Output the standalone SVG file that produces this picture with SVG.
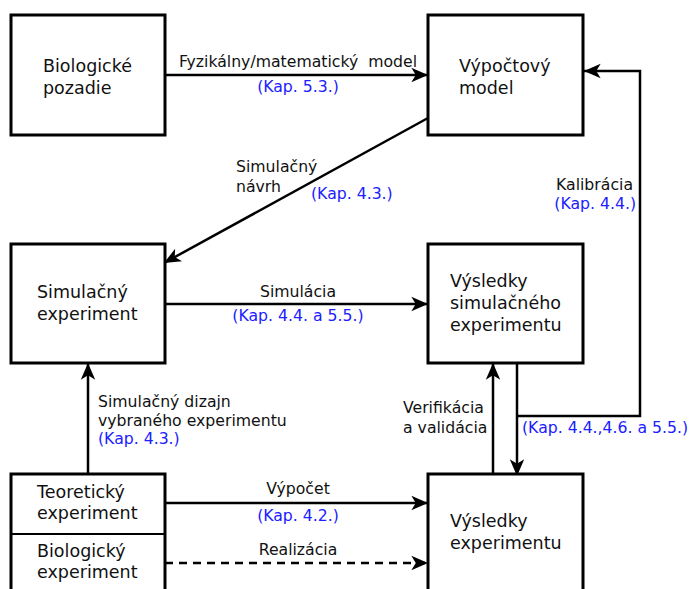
<svg xmlns="http://www.w3.org/2000/svg" width="690" height="589" viewBox="0 0 690 589">
<defs>
<style>
.box{fill:#fff;stroke:#000;stroke-width:3}
.t{font-family:"DejaVu Sans",sans-serif;font-size:17.5px;fill:#111}
.e{font-family:"DejaVu Sans",sans-serif;font-size:15.7px;fill:#111}
.b{font-family:"DejaVu Sans",sans-serif;font-size:15.7px;fill:#2020ff}
.c{fill:none;stroke:#000;stroke-width:2.5}
.d{stroke-dasharray:8,6}
</style>
<marker id="ah" markerUnits="userSpaceOnUse" markerWidth="20" markerHeight="20" viewBox="-16 -8 18 16" refX="0" refY="0" orient="auto">
<path d="M0,0 L-15,-6.5 L-11,0 L-15,6.5 Z" fill="#000"/>
</marker>
</defs>
<rect width="690" height="589" fill="#fff"/>
<g id="connectors">
<path class="c" d="M165,75 L428,75" marker-end="url(#ah)"/>
<path class="c" d="M428,118 L164,263" marker-end="url(#ah)"/>
<path class="c" d="M165,304 L428,304" marker-end="url(#ah)"/>
<path class="c" d="M517,416 L640,416 L640,71 L584,71" marker-end="url(#ah)"/>
<path class="c" d="M517,363 L517,476" marker-end="url(#ah)"/>
<path class="c" d="M493,474 L493,363" marker-end="url(#ah)"/>
<path class="c" d="M88,474 L88,363" marker-end="url(#ah)"/>
<path class="c" d="M165,503 L428,503" marker-end="url(#ah)"/>
<path class="c d" d="M165,563 L428,563" marker-end="url(#ah)"/>
<text class="e" x="298" y="67" text-anchor="middle" xml:space="preserve">Fyzikálny/matematický  model</text>
<text class="b" x="298" y="92" text-anchor="middle">(Kap. 5.3.)</text>
<text class="e" x="236" y="172">Simulačný</text>
<text class="e" x="236" y="192">návrh</text>
<text class="b" x="311" y="199">(Kap. 4.3.)</text>
<text class="e" x="298" y="297" text-anchor="middle">Simulácia</text>
<text class="b" x="298" y="321" text-anchor="middle">(Kap. 4.4. a 5.5.)</text>
<text class="e" x="633" y="190" text-anchor="end">Kalibrácia</text>
<text class="b" x="636" y="209" text-anchor="end">(Kap. 4.4.)</text>
<text class="e" x="98" y="407">Simulačný dizajn</text>
<text class="e" x="98" y="426">vybraného experimentu</text>
<text class="b" x="98" y="444">(Kap. 4.3.)</text>
<text class="e" x="403" y="413">Verifikácia</text>
<text class="e" x="403" y="433">a validácia</text>
<text class="b" x="522" y="433">(Kap. 4.4.,4.6. a 5.5.)</text>
<text class="e" x="298" y="494" text-anchor="middle">Výpočet</text>
<text class="b" x="298" y="521" text-anchor="middle">(Kap. 4.2.)</text>
<text class="e" x="298" y="555" text-anchor="middle">Realizácia</text>
</g>
<g id="biologicke-pozadie">
<rect class="box" x="11" y="15" width="154" height="120"/>
<text class="t" x="43" y="72">Biologické</text>
<text class="t" x="43" y="94">pozadie</text>
</g>
<g id="vypoctovy-model">
<rect class="box" x="428" y="15" width="155" height="120"/>
<text class="t" x="459" y="72">Výpočtový</text>
<text class="t" x="459" y="94">model</text>
</g>
<g id="simulacny-experiment">
<rect class="box" x="11" y="244" width="154" height="119"/>
<text class="t" x="37" y="298">Simulačný</text>
<text class="t" x="37" y="320">experiment</text>
</g>
<g id="vysledky-simulacneho">
<rect class="box" x="428" y="244" width="155" height="119"/>
<text class="t" x="450" y="287">Výsledky</text>
<text class="t" x="450" y="309">simulačného</text>
<text class="t" x="450" y="331">experimentu</text>
</g>
<g id="teoreticky-biologicky">
<rect class="box" x="11" y="474" width="154" height="130"/>
<line x1="11" y1="534" x2="165" y2="534" stroke="#000" stroke-width="2"/>
<text class="t" x="37" y="498">Teoretický</text>
<text class="t" x="37" y="519">experiment</text>
<text class="t" x="37" y="557">Biologický</text>
<text class="t" x="37" y="578">experiment</text>
</g>
<g id="vysledky-experimentu">
<rect class="box" x="428" y="474" width="155" height="130"/>
<text class="t" x="450" y="527">Výsledky</text>
<text class="t" x="450" y="549">experimentu</text>
</g>
</svg>
